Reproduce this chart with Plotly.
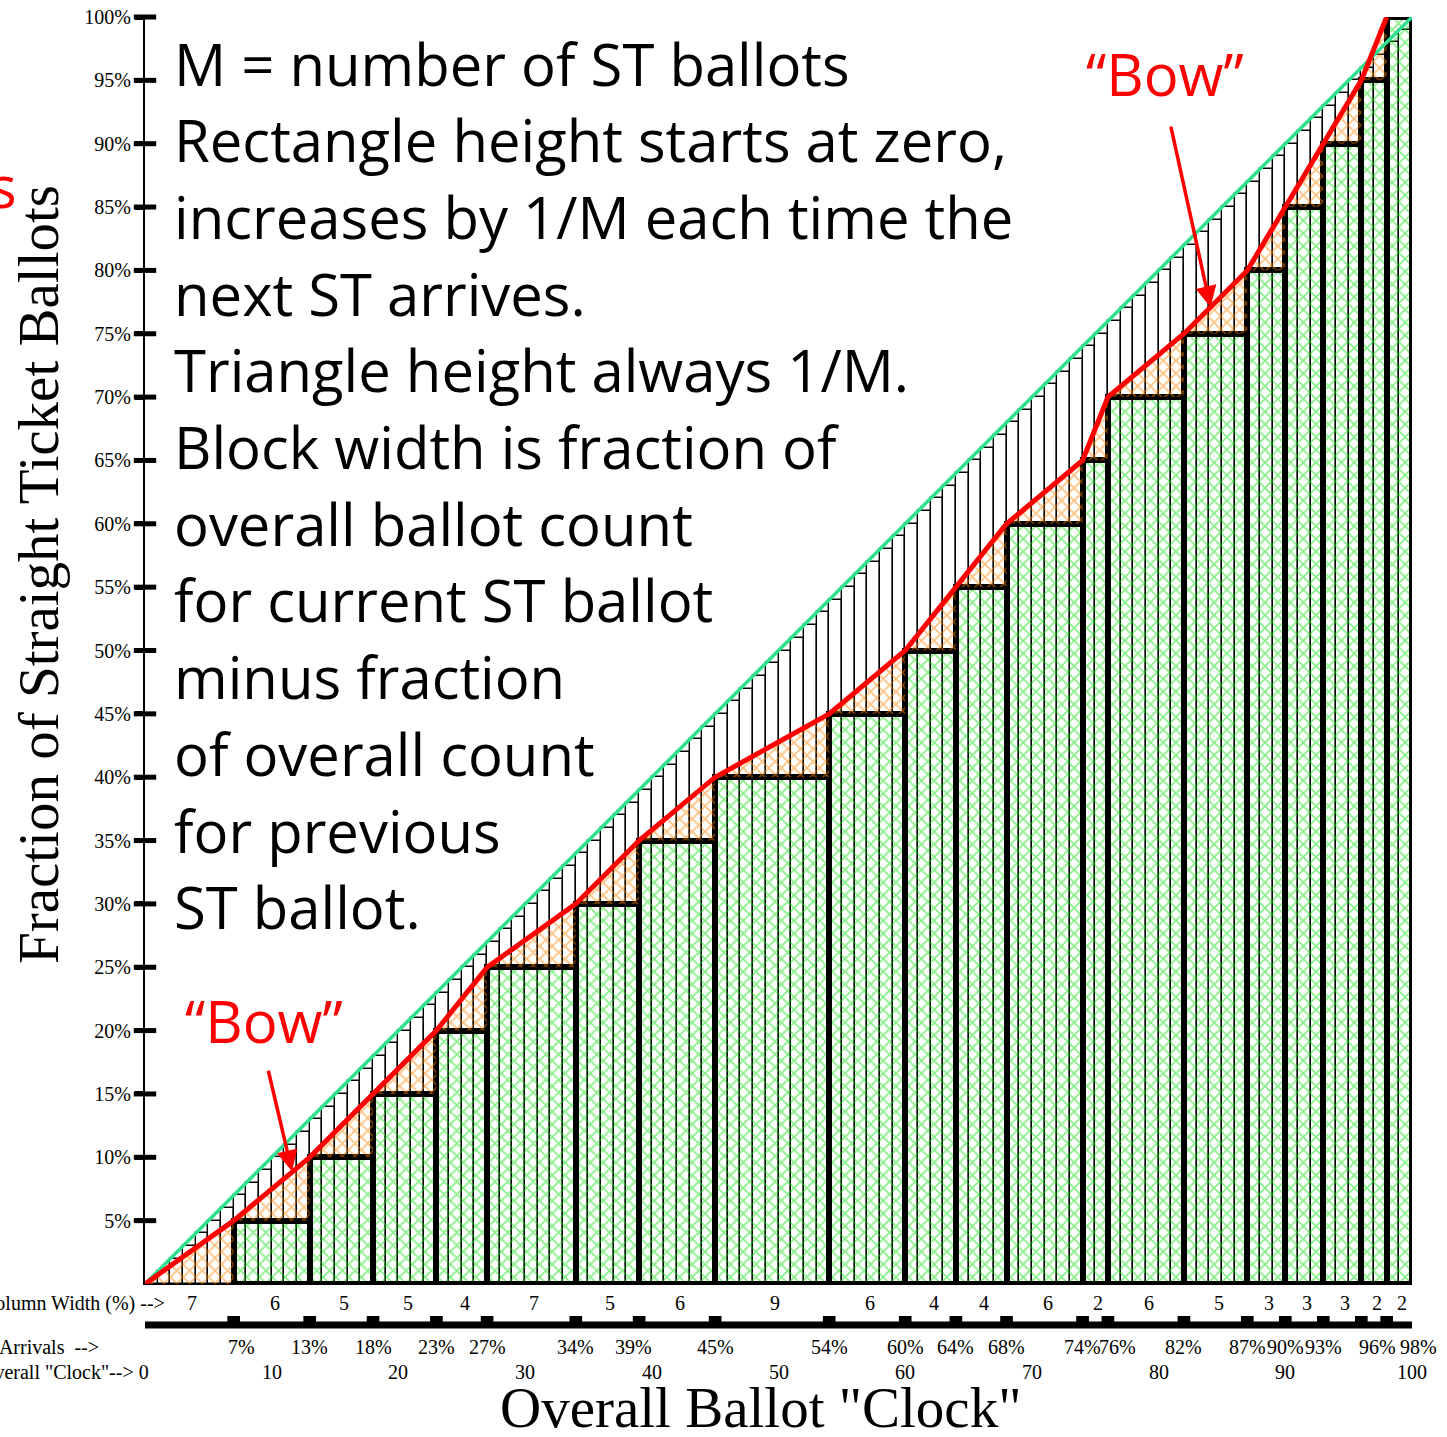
import plotly.graph_objects as go

# ST ballot arrivals on the overall ballot "clock" (percent of all ballots)
col_widths = [7, 6, 5, 5, 4, 7, 5, 6, 9, 6, 4, 4, 6, 2, 6, 5, 3, 3, 3, 2, 2]
arrivals = [7, 13, 18, 23, 27, 34, 39, 45, 54, 60, 64, 68, 74, 76, 82, 87, 90, 93, 96, 98]
st_share = [5, 10, 15, 20, 25, 30, 35, 40, 45, 50, 55, 60, 65, 70, 75, 80, 85, 90, 95, 100]
clock_ticks = [0, 10, 20, 30, 40, 50, 60, 70, 80, 90, 100]
y_ticks = [5, 10, 15, 20, 25, 30, 35, 40, 45, 50, 55, 60, 65, 70, 75, 80, 85, 90, 95, 100]
# one thin bar per clock unit, height = clock position (the diagonal)
clock_units = [0, 1, 2, 3, 4, 5, 6, 7, 8, 9, 10, 11, 12, 13, 14, 15, 16, 17, 18, 19,
               20, 21, 22, 23, 24, 25, 26, 27, 28, 29, 30, 31, 32, 33, 34, 35, 36, 37, 38, 39,
               40, 41, 42, 43, 44, 45, 46, 47, 48, 49, 50, 51, 52, 53, 54, 55, 56, 57, 58, 59,
               60, 61, 62, 63, 64, 65, 66, 67, 68, 69, 70, 71, 72, 73, 74, 75, 76, 77, 78, 79,
               80, 81, 82, 83, 84, 85, 86, 87, 88, 89, 90, 91, 92, 93, 94, 95, 96, 97, 98, 99]

notes = [
    "M = number of ST ballots",
    "Rectangle height starts at zero,",
    "increases by 1/M each time the",
    "next ST arrives.",
    "Triangle height always 1/M.",
    "Block width is fraction of",
    "overall ballot count",
    "for current ST ballot",
    "minus fraction",
    "of overall count",
    "for previous",
    "ST ballot.",
]

W, H = 1447, 1437
L, R, T, B = 145, 35, 17, 153
PW, PH = W - L - R, H - T - B


def py(pix):  # figure pixel row -> paper y
    return (H - B - pix) / PH


def px(pix):  # figure pixel column -> paper x
    return (pix - L) / PW


SERIF = "Liberation Serif"
SANS = "Open Sans"
GREEN = "#10e010"
ORANGE = "#ff8400"

fig = go.Figure()

# thin clock bars
fig.add_trace(go.Bar(
    x=[u + 0.5 for u in clock_units], y=clock_units, width=1,
    marker=dict(color="white", line=dict(color="black", width=1.4)),
    hoverinfo="skip", showlegend=False))

# green rectangles
ends = arrivals[1:] + [100]
fig.add_trace(go.Bar(
    x=[(a + e) / 2 for a, e in zip(arrivals, ends)], y=st_share,
    width=[e - a for a, e in zip(arrivals, ends)],
    marker=dict(color="rgba(0,0,0,0)", line=dict(color="black", width=6),
                pattern=dict(shape="x", fgcolor=GREEN, bgcolor="rgba(0,0,0,0)",
                             size=9, solidity=0.35)),
    cliponaxis=False, hoverinfo="skip", showlegend=False))

# orange triangles
tx, ty = [], []
prev_x, prev_h = 0, 0
for a, h in zip(arrivals, st_share):
    tx += [prev_x, a, a, prev_x, None]
    ty += [prev_h, h, prev_h, prev_h, None]
    prev_x, prev_h = a, h
fig.add_trace(go.Scatter(
    x=tx, y=ty, mode="lines", fill="toself", line=dict(width=0),
    fillcolor="rgba(0,0,0,0)",
    fillpattern=dict(shape="x", fgcolor=ORANGE, bgcolor="rgba(0,0,0,0)",
                     size=9, solidity=0.35),
    hoverinfo="skip", showlegend=False))

# diagonal
fig.add_trace(go.Scatter(x=[0, 100], y=[0, 100], mode="lines",
                         line=dict(color="#2fe08f", width=3.5),
                         hoverinfo="skip", showlegend=False))
# red line through rectangle corners
fig.add_trace(go.Scatter(x=[0] + arrivals, y=[0] + st_share, mode="lines",
                         line=dict(color="#ff0000", width=5),
                         cliponaxis=False, hoverinfo="skip", showlegend=False))
# y tick marks crossing the axis
fig.add_trace(go.Scatter(x=[0] * len(y_ticks), y=y_ticks, mode="markers",
                         marker=dict(symbol="line-ew", size=16,
                                     line=dict(color="black", width=5)),
                         cliponaxis=False, hoverinfo="skip", showlegend=False))

ann = []
# text block
for i, line in enumerate(notes):
    ann.append(dict(text=line, xref="paper", yref="paper", x=px(172),
                    y=py(63 + i * 76.7), xanchor="left", yanchor="middle",
                    showarrow=False, font=dict(family=SANS, size=58, color="black")))

# "Bow" labels and arrows
for cx, cy in [(1165, 73), (264, 1020)]:
    ann.append(dict(text="\u201cBow\u201d", xref="paper", yref="paper", x=px(cx), y=py(cy),
                    xanchor="center", yanchor="middle", showarrow=False,
                    font=dict(family=SANS, size=58, color="#ff0000")))
for tip, tail in [((84.1, 77.1), (-40, -182)), ((11.6, 8.9), (-24, -102))]:
    ann.append(dict(text="", x=tip[0], y=tip[1], xref="x", yref="y",
                    ax=tail[0], ay=tail[1], showarrow=True, arrowhead=2,
                    arrowsize=1.2, arrowwidth=3.5, arrowcolor="#ff0000", standoff=0))
ann.append(dict(text="s", xref="paper", yref="paper", x=px(19), y=py(185),
                xanchor="right", yanchor="middle", showarrow=False,
                font=dict(family=SANS, size=58, color="#ff0000")))

# axis titles
ann.append(dict(text="Fraction of Straight Ticket Ballots", xref="paper", yref="paper",
                x=px(38), y=py(575), textangle=-90, xanchor="center", yanchor="middle",
                showarrow=False, font=dict(family=SERIF, size=57, color="black")))
ann.append(dict(text="Overall Ballot \"Clock\"", xref="paper", yref="paper",
                x=px(760), y=py(1408), xanchor="center", yanchor="middle",
                showarrow=False, font=dict(family=SERIF, size=57, color="black")))

small = dict(family=SERIF, size=20, color="black")
# column widths row
starts = [0] + arrivals
for s, w in zip(starts, col_widths):
    ann.append(dict(text=str(w), x=s + w / 2, xref="x", yref="paper", y=py(1303),
                    xshift=3, yanchor="middle", showarrow=False, font=small))
ann.append(dict(text="Column Width (%) -->", xref="paper", yref="paper", x=px(167),
                y=py(1303), xanchor="right", yanchor="middle", showarrow=False, font=small))
# arrival labels
nudge = {7: 8, 39: -6, 76: 10, 96: 16, 98: 32}
for a in arrivals:
    ann.append(dict(text=f"{a}%", x=a, xref="x", yref="paper", y=py(1347),
                    xshift=nudge.get(a, 0), yanchor="middle", showarrow=False, font=small))
ann.append(dict(text="ST Arrivals  -->", xref="paper", yref="paper", x=px(101),
                y=py(1347), xanchor="right", yanchor="middle", showarrow=False, font=small))
# clock labels
for c in clock_ticks[1:]:
    ann.append(dict(text=str(c), x=c, xref="x", yref="paper", y=py(1372),
                    yanchor="middle", showarrow=False, font=small))
ann.append(dict(text="Overall \"Clock\"--> 0", xref="paper", yref="paper", x=px(151),
                y=py(1372), xanchor="right", yanchor="middle", showarrow=False, font=small))

# thick clock bar with arrival markers
shapes = [dict(type="line", xref="x", yref="paper", x0=0, x1=100,
               y0=py(1325), y1=py(1325), line=dict(color="black", width=7))]
for a in arrivals:
    shapes.append(dict(type="rect", xref="x", yref="paper", x0=a - 0.5, x1=a + 0.5,
                       y0=py(1325), y1=py(1316), fillcolor="black",
                       line=dict(width=0)))

fig.update_layout(
    width=W, height=H,
    margin=dict(l=L, r=R, t=T, b=B, autoexpand=False),
    paper_bgcolor="white", plot_bgcolor="white",
    barmode="overlay", bargap=0,
    showlegend=False,
    annotations=ann, shapes=shapes,
    xaxis=dict(range=[0, 100], showgrid=False, zeroline=False, showticklabels=False,
               ticks="", showline=True, linecolor="black", linewidth=1),
    yaxis=dict(range=[0, 100], showgrid=False, zeroline=False,
               tickvals=y_ticks, ticktext=[f"{t}%" for t in y_ticks],
               ticks="outside", ticklen=8, tickwidth=5, tickcolor="black",
               tickfont=dict(family=SERIF, size=20, color="black"),
               showline=True, linecolor="black", linewidth=2),
)

# drop the browser's default page margin so the figure sits at the window corner
fig.write_html("out.html", config={"displayModeBar": False},
               post_script="document.body.style.margin='0';")
